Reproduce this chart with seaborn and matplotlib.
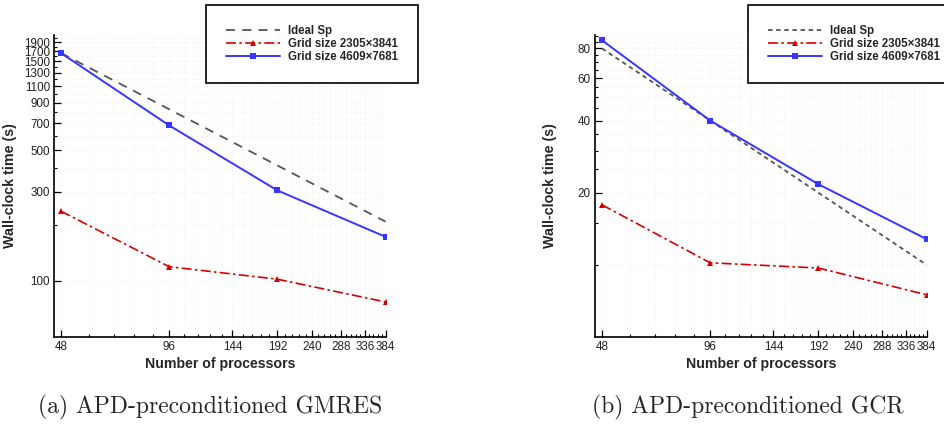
import numpy as np
import pandas as pd
import matplotlib
matplotlib.use("Agg")
import matplotlib.pyplot as plt
import seaborn as sns
from matplotlib.ticker import FixedLocator, FixedFormatter, NullFormatter

sns.set_theme(style="white")
plt.rcParams['font.family'] = ['Liberation Sans', 'DejaVu Sans']

# ---- data ----
procs = [48, 96, 192, 384]
gmres_ideal = [1660, 830, 415, 207.5]
gmres_small = [236, 119, 102, 77]
gmres_large = [1660, 680, 305, 172]

gcr_ideal = [80, 40, 20, 10]
gcr_small = [17.8, 10.2, 9.7, 7.5]
gcr_large = [86.5, 40, 21.7, 12.8]

xtick_labels = ["48", "96", "144", "192", "240", "288", "336", "384"]
labels = ["Ideal Sp", "Grid size 2305\u00d73841", "Grid size 4609\u00d77681"]
captions = ["(a) APD-preconditioned GMRES", "(b) APD-preconditioned GCR"]

W, H = 945, 429
fig = plt.figure(figsize=(W / 100, H / 100), dpi=100)

def px_axes(x0, y0, x1, y1):
    return fig.add_axes([x0 / W, 1 - y1 / H, (x1 - x0) / W, (y1 - y0) / H])

axL = px_axes(54, 35, 386, 337)
axR = px_axes(595, 35, 927, 337)

gray = '#555555'
red = '#d40000'
blue = '#3636ff'

def draw(ax, ideal, small, large, ideal_ls):
    sns.lineplot(x=procs, y=ideal, ax=ax, color=gray, linestyle=ideal_ls,
                 linewidth=1.3, label=labels[0])
    sns.lineplot(x=procs, y=small, ax=ax, color=red, linestyle=(0, (6, 2, 1.5, 2)),
                 linewidth=1.2, marker='^', markersize=5, markeredgewidth=0,
                 label=labels[1])
    sns.lineplot(x=procs, y=large, ax=ax, color=blue, linestyle='-',
                 linewidth=1.4, marker='s', markersize=5, markeredgewidth=0,
                 label=labels[2])

draw(axL, gmres_ideal, gmres_small, gmres_large, (0, (5, 4)))
draw(axR, gcr_ideal, gcr_small, gcr_large, (0, (2.5, 2)))

xmaj = [48 * k for k in range(1, 9)]
xmin = [48 + 9.6 * k for k in range(0, 36)]

for ax, ylab_x in ((axL, 17.5), (axR, 557)):
    ax.set_xscale('log')
    ax.set_yscale('log')
    ax.xaxis.set_major_locator(FixedLocator(xmaj))
    ax.xaxis.set_major_formatter(FixedFormatter(xtick_labels))
    ax.xaxis.set_minor_locator(FixedLocator(xmin))
    ax.xaxis.set_minor_formatter(NullFormatter())
    ax.set_xlim(45.9, 385)
    for s in ('top', 'right'):
        ax.spines[s].set_visible(False)
    for s in ('left', 'bottom'):
        ax.spines[s].set_color('black')
        ax.spines[s].set_linewidth(1.2)
    ax.tick_params(which='major', direction='in', length=5, width=0.9,
                   labelsize=8.4, pad=3, colors='black', labelcolor='#222222')
    ax.tick_params(which='minor', direction='in', length=2.5, width=0.8,
                   colors='black')
    ax.tick_params(axis='x', which='both', bottom=True)
    ax.tick_params(axis='y', which='both', left=True)
    ax.grid(True, which='both', color='#ececec', linestyle=(0, (1, 2)), linewidth=0.6)
    ax.set_xlabel("Number of processors", fontsize=10.2, fontweight='bold', labelpad=3)
    ax.set_ylabel("Wall-clock time (s)", fontsize=10.3, fontweight='bold')
    bb = ax.get_position()
    ax.yaxis.set_label_coords((ylab_x / W - bb.x0) / bb.width, 0.5)
    ax.get_legend().remove()

# left y ticks
yL_major = list(range(100, 2000, 200))
yL_minor = list(range(200, 2100, 200))
axL.yaxis.set_major_locator(FixedLocator(yL_major))
axL.yaxis.set_major_formatter(FixedFormatter([str(v) for v in yL_major]))
axL.yaxis.set_minor_locator(FixedLocator(yL_minor))
axL.yaxis.set_minor_formatter(NullFormatter())
axL.set_ylim(50, 2075)

yR_major = [20, 40, 60, 80]
yR_minor = [v for v in range(10, 95, 5) if v not in yR_major]
axR.yaxis.set_major_locator(FixedLocator(yR_major))
axR.yaxis.set_major_formatter(FixedFormatter([str(v) for v in yR_major]))
axR.yaxis.set_minor_locator(FixedLocator(yR_minor))
axR.yaxis.set_minor_formatter(NullFormatter())
axR.set_ylim(5, 91)

# legends
for ax, xpx in ((axL, 206), (axR, 748)):
    h, l = ax.get_legend_handles_labels()
    leg = ax.legend(h, l, loc='upper left', bbox_to_anchor=(xpx / W, 1 - 5 / H),
                    bbox_transform=fig.transFigure, frameon=True, fancybox=False,
                    prop={'weight': 'bold', 'size': 8.3}, handlelength=4.7,
                    handletextpad=0.75, labelspacing=0.12, borderpad=1.7,
                    borderaxespad=0, numpoints=1)
    fr = leg.get_frame()
    fr.set_edgecolor('black')
    fr.set_linewidth(1.2)
    fr.set_facecolor('white')
    fr.set_alpha(1)
    leg.set_zorder(10)

fig.text(210 / W, 1 - 407 / H, captions[0], family='cmr10', fontsize=17,
         ha='center', va='center')
fig.text(748 / W, 1 - 407 / H, captions[1], family='cmr10', fontsize=17,
         ha='center', va='center')

fig.savefig("out.png", dpi=100)
